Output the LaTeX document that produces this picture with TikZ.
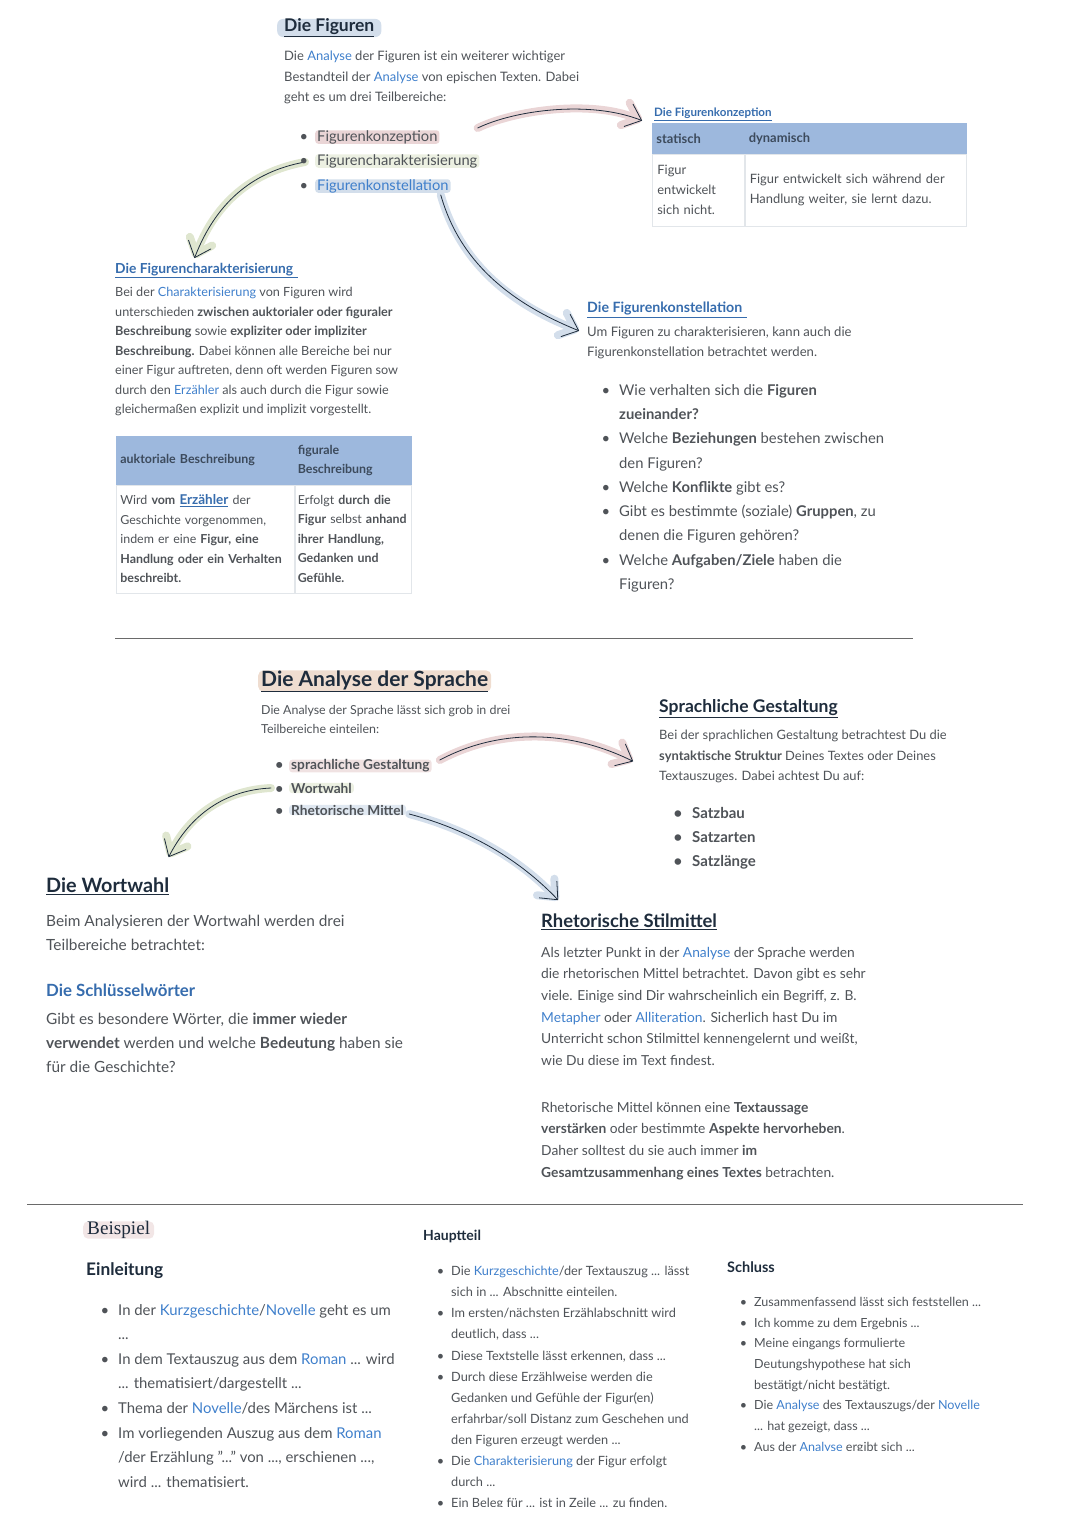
\documentclass[tikz,border=0pt]{standalone}
\usepackage{fontspec}
\setmainfont{Lato}
\newfontfamily\serifhand{Liberation Serif}
\usetikzlibrary{arrows.meta,backgrounds}
\definecolor{bodygray}{HTML}{4F5358}
\definecolor{titlenavy}{HTML}{1E2C3C}
\definecolor{linkblue}{HTML}{3F7FCB}
\definecolor{headblue}{HTML}{9DB8DD}
\definecolor{headtext}{HTML}{3C4A5C}
\definecolor{cellline}{HTML}{E2E6EA}
\definecolor{washred}{HTML}{EAD5D6}
\definecolor{washgreen}{HTML}{DFE6CF}
\definecolor{washblue}{HTML}{D3DEEB}
\definecolor{washsand}{HTML}{EFDDD0}
\definecolor{rulegray}{HTML}{6A6A6A}
\newcommand{\lnk}[1]{\textcolor{linkblue}{#1}}
\newcommand{\bul}[1][10pt]{\llap{\textbullet\hspace{#1}}}
\begin{document}
\begin{tikzpicture}[x=1pt,y=-1pt]
\tikzstyle{txt} = [anchor=north west, inner sep=0pt, align=left, text=bodygray]
\tikzstyle{body_a} = [txt, font=\fontsize{13}{20.3}\selectfont]
\tikzstyle{body_b} = [txt, font=\fontsize{12.65}{19.5}\selectfont]
\tikzstyle{body_c} = [txt, font=\fontsize{13.1}{20}\selectfont]
\tikzstyle{body_d} = [txt, font=\fontsize{14.8}{24.3}\selectfont]
\tikzstyle{body_e} = [txt, font=\fontsize{12.4}{19.6}\selectfont]
\tikzstyle{body_f} = [txt, font=\fontsize{12.9}{20.6}\selectfont]
\tikzstyle{body_g} = [txt, font=\fontsize{15.4}{24}\selectfont]
\tikzstyle{body_h} = [txt, font=\fontsize{13.8}{21.6}\selectfont]
\tikzstyle{body_i} = [txt, font=\fontsize{14.9}{24.6}\selectfont]
\tikzstyle{body_j} = [txt, font=\fontsize{12.75}{21.1}\selectfont]
\tikzstyle{body_k} = [txt, font=\fontsize{12.55}{20.7}\selectfont]
\tikzstyle{title} = [txt, text=titlenavy, font=\fontsize{17.5}{20}\selectfont\bfseries]
\tikzstyle{title_link} = [txt, text=linkblue!85!black, font=\fontsize{13.8}{18}\selectfont\bfseries]
\tikzstyle{item} = [anchor=west, inner xsep=2pt, inner ysep=0pt, rounded corners=3pt, text=bodygray]
\tikzstyle{head_cell} = [anchor=center, draw=headblue, fill=headblue, text=headtext, align=left, inner xsep=4pt, inner ysep=0pt]
\tikzstyle{body_cell} = [anchor=center, draw=cellline, fill=white, text=bodygray, align=left, inner xsep=5pt, inner ysep=0pt]
\tikzstyle{rule} = [draw=rulegray, line width=.7pt]
\tikzstyle{ink} = [draw=titlenavy, line width=.8pt, line cap=round, line join=round,
  -{Straight Barb[length=14pt,width=24pt,round]}]
\tikzstyle{wash} = [draw=#1, line width=8pt, line cap=round, line join=round,
  -{Straight Barb[length=14pt,width=24pt,round]}]

% Die Figuren
\node [title, fill=washblue, rounded corners=6pt, inner xsep=7pt, inner ysep=0pt, anchor=west] (fig_title) at (277,28) {\underline{Die Figuren}};
\node [body_a] (fig_text) at (284,51) {Die \lnk{Analyse} der Figuren ist ein weiterer wichtiger\\
Bestandteil der \lnk{Analyse} von epischen Texten. Dabei\\
geht es um drei Teilbereiche:};
\node [item, fill=washred, font=\fontsize{14.7}{18}\selectfont] (item_a) at (315,137) {\bul[9pt]Figurenkonzeption};
\node [item, fill=washgreen!60, font=\fontsize{14.7}{18}\selectfont] (item_b) at (315,161) {\bul[9pt]Figurencharakterisierung};
\node [item, fill=washblue, font=\fontsize{14.7}{18}\selectfont, text=linkblue] (item_c) at (315,186) {\textcolor{bodygray}{\bul[9pt]}Figurenkonstellation};

% Figurenkonzeption
\node [title_link, font=\fontsize{11.6}{14}\selectfont\bfseries] (title_a) at (654,108) {\underline{Die Figurenkonzeption}};
\matrix [anchor=north west, inner sep=0pt, column sep=0pt, row sep=0pt, font=\fontsize{12.9}{20.4}\selectfont] (table_a) at (652,123)
{
% row 1
\node [head_cell, minimum height=30pt, text width=84pt] (cell_a1) {\textbf{statisch}}; &
\node [head_cell, minimum height=30pt, text width=213pt] (cell_a2) {\textbf{dynamisch}}; \\
% row 2
\node [body_cell, minimum height=72pt, text width=82pt] (cell_a3) {Figur\\entwickelt\\sich nicht.}; &
\node [body_cell, minimum height=72pt, text width=211pt] (cell_a4) {Figur entwickelt sich während der\\Handlung weiter, sie lernt dazu.}; \\
};

% Figurencharakterisierung
\node [title_link] (title_c) at (115,263) {\underline{Die Figurencharakterisierung\,\,}};
\node [body_b] (char_text) at (115,287) {Bei der \lnk{Charakterisierung} von Figuren wird\\
unterschieden \textbf{zwischen auktorialer oder figuraler}\\
\textbf{Beschreibung} sowie \textbf{expliziter oder impliziter}\\
\textbf{Beschreibung.} Dabei können alle Bereiche bei nur\\
einer Figur auftreten, denn oft werden Figuren sow\\
durch den \lnk{Erzähler} als auch durch die Figur sowie\\
gleichermaßen explizit und implizit vorgestellt.};
\matrix [anchor=north west, inner sep=0pt, column sep=0pt, row sep=0pt, font=\fontsize{12.4}{19.6}\selectfont] (table_b) at (116,436)
{
% row 1
\node [head_cell, minimum height=48pt, text width=170pt] (cell_b1) {\textbf{auktoriale Beschreibung}}; &
\node [head_cell, minimum height=48pt, text width=110pt, inner xsep=3pt] (cell_b2) {\textbf{figurale}\\\textbf{Beschreibung}}; \\
% row 2
\node [body_cell, minimum height=108pt, text width=170pt, inner xsep=4pt] (cell_b3) {Wird \textbf{vom} \textcolor{linkblue!85!black}{\fontsize{13.5}{19.6}\selectfont\textbf{\underline{Erzähler}}} der\\Geschichte vorgenommen,\\indem er eine \textbf{Figur, eine}\\\textbf{Handlung oder ein Verhalten}\\\textbf{beschreibt.}}; &
\node [body_cell, minimum height=108pt, text width=110pt, inner xsep=3pt] (cell_b4) {Erfolgt \textbf{durch die}\\\textbf{Figur} selbst \textbf{anhand}\\\textbf{ihrer Handlung,}\\\textbf{Gedanken und}\\\textbf{Gefühle.}}; \\
};

% Figurenkonstellation
\node [title_link, font=\fontsize{14.2}{18}\selectfont\bfseries] (title_d) at (587,302) {\underline{Die Figurenkonstellation\,\,}};
\node [body_c] (kons_text) at (587,327) {Um Figuren zu charakterisieren, kann auch die\\Figurenkonstellation betrachtet werden.};
\node [body_d] (kons_list) at (619,384) {\bul[9pt]Wie verhalten sich die \textbf{Figuren}\\
\textbf{zueinander?}\\
\bul[9pt]Welche \textbf{Beziehungen} bestehen zwischen\\
den Figuren?\\
\bul[9pt]Welche \textbf{Konflikte} gibt es?\\
\bul[9pt]Gibt es bestimmte (soziale) \textbf{Gruppen}, zu\\
denen die Figuren gehören?\\
\bul[9pt]Welche \textbf{Aufgaben/Ziele} haben die\\
Figuren?};

\path [rule] (115,638) -- (913,638);

% Die Analyse der Sprache
\node [title, fill=washsand, rounded corners=5pt, inner xsep=3pt, inner ysep=0pt, anchor=west, font=\fontsize{21}{24}\selectfont\bfseries] (spr_title) at (258,681) {\underline{Die Analyse der Sprache}};
\node [body_e] (spr_text) at (261,705) {Die Analyse der Sprache lässt sich grob in drei\\Teilbereiche einteilen:};
\node [item, fill=washred!70, font=\fontsize{13.7}{18}\selectfont\bfseries] (item_d) at (289,766) {\bul[8pt]sprachliche Gestaltung};
\node [item, fill=washgreen!60, font=\fontsize{13.7}{18}\selectfont\bfseries] (item_e) at (289,788) {\bul[8pt]Wortwahl};
\node [item, fill=washblue!70, font=\fontsize{13.7}{18}\selectfont\bfseries] (item_f) at (289,810) {\bul[8pt]Rhetorische Mittel};

% Sprachliche Gestaltung
\node [title] (title_e) at (659,699) {\underline{Sprachliche Gestaltung}};
\node [body_f] (gest_text) at (659,730) {Bei der sprachlichen Gestaltung betrachtest Du die\\
\textbf{syntaktische Struktur} Deines Textes oder Deines\\
Textauszuges. Dabei achtest Du auf:};
\node [body_g, font=\fontsize{15}{24}\selectfont\bfseries] (gest_list) at (692,807) {\bul Satzbau\\\bul Satzarten\\\bul Satzlänge};

% Die Wortwahl
\node [title, font=\fontsize{19.8}{24}\selectfont\bfseries] (title_f) at (46,878) {\underline{Die Wortwahl}};
\node [body_g] (wort_text) at (46,915) {Beim Analysieren der Wortwahl werden drei\\Teilbereiche betrachtet:};
\node [title_link, font=\fontsize{16.8}{20}\selectfont\bfseries] (wort_sub) at (46,984) {Die Schlüsselwörter};
\node [body_g] (wort_more) at (46,1013) {Gibt es besondere Wörter, die \textbf{immer wieder}\\
\textbf{verwendet} werden und welche \textbf{Bedeutung} haben sie\\
für die Geschichte?};

% Rhetorische Stilmittel
\node [title, font=\fontsize{18.4}{20}\selectfont\bfseries] (title_g) at (541,914) {\underline{Rhetorische Stilmittel}};
\node [body_h] (rhet_text) at (541,947) {Als letzter Punkt in der \lnk{Analyse} der Sprache werden\\
die rhetorischen Mittel betrachtet. Davon gibt es sehr\\
viele. Einige sind Dir wahrscheinlich ein Begriff, z. B.\\
\lnk{Metapher} oder \lnk{Alliteration}. Sicherlich hast Du im\\
Unterricht schon Stilmittel kennengelernt und weißt,\\
wie Du diese im Text findest.};
\node [body_h] (rhet_more) at (541,1102) {Rhetorische Mittel können eine \textbf{Textaussage}\\
\textbf{verstärken} oder bestimmte \textbf{Aspekte hervorheben}.\\
Daher solltest du sie auch immer \textbf{im}\\
\textbf{Gesamtzusammenhang eines Textes} betrachten.};

\path [rule] (27,1204) -- (1023,1204);

% Beispiel
\node [item, fill=washred!60, rounded corners=5pt, text=titlenavy, inner xsep=4pt, inner ysep=0pt, font=\fontsize{19.2}{24}\serifhand\selectfont] (bsp_title) at (83,1230) {Beispiel};
\node [title, font=\fontsize{17.3}{20}\selectfont\bfseries] (ein_title) at (86,1262) {Einleitung};
\node [body_i] (ein_list) at (118,1304) {\bul[9pt]In der \lnk{Kurzgeschichte}/\lnk{Novelle} geht es um\\
...\\
\bul[9pt]In dem Textauszug aus dem \lnk{Roman} ... wird\\
... thematisiert/dargestellt ...\\
\bul[9pt]Thema der \lnk{Novelle}/des Märchens ist ...\\
\bul[9pt]Im vorliegenden Auszug aus dem \lnk{Roman}\\
/der Erzählung "..." von ..., erschienen ...,\\
wird ... thematisiert.};
\node [title, font=\fontsize{14}{18}\selectfont\bfseries] (haupt_title) at (423,1230) {Hauptteil};
\node [body_j] (haupt_list) at (451,1266) {\bul[7pt]Die \lnk{Kurzgeschichte}/der Textauszug ... lässt\\
sich in ... Abschnitte einteilen.\\
\bul[7pt]Im ersten/nächsten Erzählabschnitt wird\\
deutlich, dass ...\\
\bul[7pt]Diese Textstelle lässt erkennen, dass ...\\
\bul[7pt]Durch diese Erzählweise werden die\\
Gedanken und Gefühle der Figur(en)\\
erfahrbar/soll Distanz zum Geschehen und\\
den Figuren erzeugt werden ...\\
\bul[7pt]Die \lnk{Charakterisierung} der Figur erfolgt\\
durch ...\\
\bul[7pt]Ein Beleg für ... ist in Zeile ... zu finden.};
\node [title, font=\fontsize{14.5}{18}\selectfont\bfseries] (schl_title) at (727,1262) {Schluss};
\node [body_k] (schl_list) at (754,1297) {\bul[7pt]Zusammenfassend lässt sich feststellen ...\\
\bul[7pt]Ich komme zu dem Ergebnis ...\\
\bul[7pt]Meine eingangs formulierte\\
Deutungshypothese hat sich\\
bestätigt/nicht bestätigt.\\
\bul[7pt]Die \lnk{Analyse} des Textauszugs/der \lnk{Novelle}\\
... hat gezeigt, dass ...\\
\bul[7pt]Aus der \lnk{Analyse} ergibt sich ...};
\fill [white] (700,1451) rectangle (1000,1470);
\fill [white] (420,1507) rectangle (700,1527);

% sketched arrows
\tikzstyle{line_a} = [ink, preaction={wash=washred}]
\tikzstyle{line_b} = [ink, preaction={wash=washgreen}]
\tikzstyle{line_c} = [ink, preaction={wash=washblue}]
\begin{scope}[on background layer]
\path [line_a] ([xshift=38pt,yshift=9pt]item_a.east) .. controls (515,110) and (590,100) .. ([xshift=-12pt,yshift=-6pt]title_a.west);
\path [line_b] ([xshift=-10pt,yshift=-1pt]item_b.west) .. controls (250,172) and (215,205) .. ([xshift=-12pt,yshift=5pt]title_c.north);
\path [line_c] ([xshift=-10pt,yshift=-2pt]item_c.south east) .. controls (455,245) and (490,295) .. ([xshift=-8pt,yshift=-21pt]title_d.west);
\path [line_a] ([xshift=8pt,yshift=6pt]item_d.east) .. controls (500,728) and (570,730) .. ([xshift=-26pt,yshift=-53pt]title_e.west);
\path [line_b] ([xshift=-18pt,yshift=0pt]item_e.west) .. controls (225,790) and (190,815) .. ([xshift=61pt,yshift=21pt]title_f.north);
\path [line_c] ([xshift=3pt,yshift=-4pt]item_f.east) .. controls (470,830) and (520,860) .. ([xshift=-71pt,yshift=14pt]title_g.north);
\end{scope}

\useasboundingbox (0,0) rectangle (1080,1527);
\end{tikzpicture}
\end{document}
